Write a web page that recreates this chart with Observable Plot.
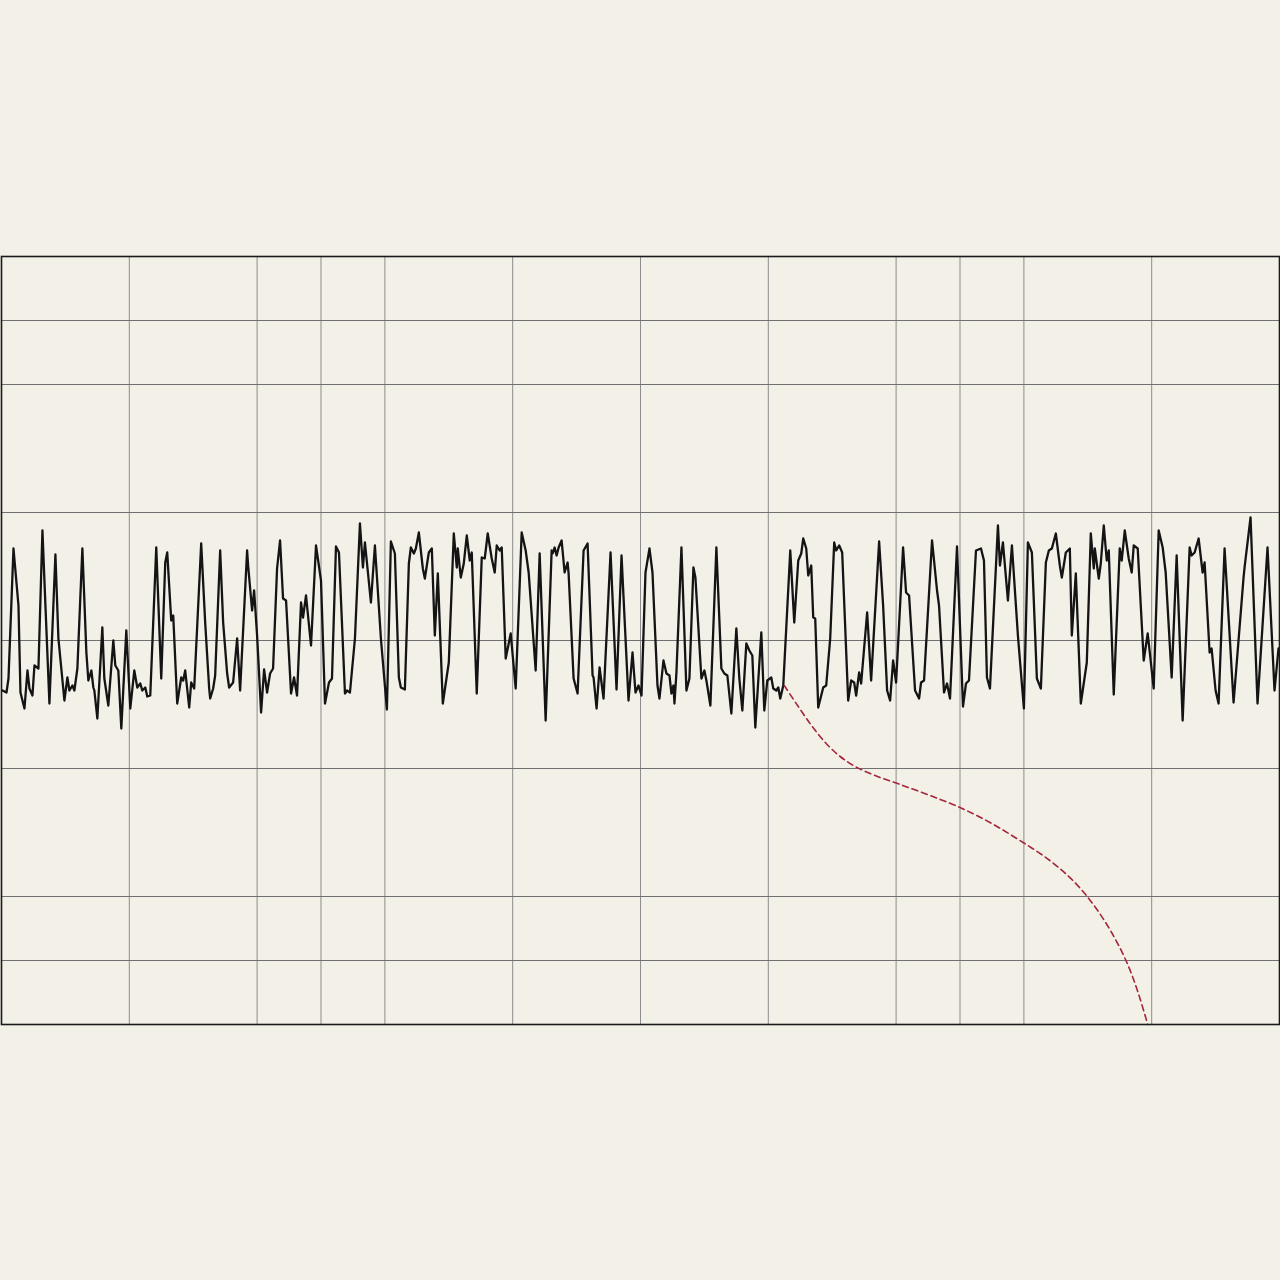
<!DOCTYPE html>
<html><head><meta charset="utf-8">
<script src="https://cdn.jsdelivr.net/npm/d3@7"></script>
<script src="https://cdn.jsdelivr.net/npm/@observablehq/plot@0.6"></script>
<style>html,body{margin:0;padding:0;background:#f3f0e8;} #chart svg{display:block}</style>
</head><body><div id="chart"></div>
<script>
// time (ms) gridlines and amplitude (µV) gridlines
const xGrid = [128, 256, 320, 384, 512, 640, 768, 896, 960, 1024, 1152];
const yGrid = [320, 256, 128, 0, -128, -256, -320];

// signal trace: [time, amplitude]
const signal = [
[1,-50],[5,-52],[7,-38],[12,92],[17,35],[19,-52],[23,-68],[26,-30],[28,-48],[31,-55],[33,-25],[37,-28],[41,110],[44,35],[48,-63],[54,86],[57,2],[63,-60],[66,-37],[68,-50],[71,-45],[73,-50],[76,-28],[81,92],[85,-12],[87,-40],[90,-30],[92,-47],[93,-50],[96,-78],[101,13],[103,-38],[107,-65],
[112,0],[114,-25],[117,-30],[120,-88],[125,10],[129,-68],[133,-30],[136,-47],[139,-43],[141,-50],[144,-47],[146,-56],[149,-55],[155,93],[160,-38],[164,78],[166,88],[170,20],[172,25],[176,-63],[180,-37],[182,-40],[184,-30],[188,-67],[190,-42],[193,-48],[200,97],[204,18],[208,-48],[209,-58],[212,-48],
[214,-35],[219,90],[222,18],[226,-33],[228,-47],[232,-42],[236,2],[239,-50],[246,90],[247,75],[251,30],[253,50],[256,5],[260,-72],[263,-29],[266,-52],[269,-33],[272,-28],[276,72],[279,100],[282,42],[285,40],[290,-53],[293,-37],[296,-55],[300,38],[302,23],[305,45],[310,-5],[315,95],[320,60],
[324,-63],[328,-42],[331,-38],[335,94],[338,88],[344,-53],[346,-50],[349,-52],[354,2],[359,117],[362,73],[364,98],[370,38],[374,95],[380,2],[386,-69],[390,99],[394,87],[398,-37],[400,-47],[404,-49],[408,77],[410,93],[413,87],[415,92],[418,108],[422,72],[424,62],[428,88],
[431,92],[434,5],[437,67],[442,-63],[448,-22],[453,107],[456,73],[457,92],[460,63],[463,77],[466,105],[469,80],[471,88],[476,-53],[481,83],[484,82],[487,107],[491,82],[494,68],[496,95],[499,90],[501,93],[505,-18],[510,7],[515,-48],[521,108],[525,90],[528,68],[535,-30],
[539,87],[545,-80],[551,90],[552,87],[554,93],[556,85],[558,93],[561,100],[564,68],[567,78],[568,67],[573,-38],[577,-53],[583,90],[587,97],[592,-35],[593,-37],[596,-68],[599,-27],[603,-58],[610,88],[616,-49],[621,85],[628,-60],[632,-12],[635,-52],[638,-45],[641,-55],
[645,68],[649,92],[652,68],[657,-45],[659,-58],[663,-20],[666,-33],[669,-35],[671,-53],[673,-45],[674,-63],[676,-32],[681,93],[686,-50],[689,-38],[693,73],[695,63],[701,-38],[704,-30],[706,-40],[710,-65],[716,93],[721,-28],[724,-33],[727,-35],[731,-73],[736,12],[739,-38],[742,-70],[746,-3],
[749,-10],[752,-15],[755,-87],[761,8],[764,-70],[767,-40],[771,-37],[773,-48],[776,-50],[778,-47],[780,-58],[783,-45],
[790,90],[794,18],[798,80],[801,87],[803,102],[806,92],[808,65],[811,75],[813,23],[815,22],[818,-67],[823,-47],[826,-45],[830,2],[834,98],[836,90],[839,95],[842,88],[848,-60],[851,-40],[854,-42],
[856,-55],[859,-32],[861,-43],[867,28],[871,-40],[879,99],[883,35],[887,-50],[890,-60],[893,-20],[896,-42],[903,93],[906,48],[909,45],[915,-50],[919,-58],[921,-42],[924,-40],[932,100],[937,50],[939,35],[944,-52],[947,-43],[950,-58],[957,94],
[963,-66],[966,-43],[969,-40],[976,90],[981,92],[984,80],[987,-37],[990,-48],[998,115],[1000,75],[1003,98],[1008,40],[1012,95],[1018,5],[1024,-68],[1028,98],[1032,88],[1037,-38],[1041,-48],[1046,78],[1049,90],[1052,92],[1056,107],[1060,75],[1062,63],[1066,88],[1070,92],
[1072,5],[1076,67],[1081,-63],[1087,-22],[1091,107],[1094,72],[1095,92],[1099,62],[1101,77],[1104,115],[1107,80],[1109,90],[1114,-54],[1120,92],[1122,80],[1125,110],[1129,82],[1132,68],[1134,95],[1138,92],[1144,-20],[1148,7],[1154,-48],[1159,110],[1163,93],[1166,68],[1172,-37],
[1177,85],[1183,-80],[1190,93],[1192,85],[1195,88],[1199,102],[1203,68],[1205,78],[1210,-12],[1212,-8],[1216,-50],[1219,-63],[1225,92],[1234,-62],[1244,63],[1245,73],[1251,123],[1258,-63],[1268,93],[1275,-50],[1279,-8]
];

// red dashed trend trace: [time, amplitude]
const redTrace = [
[784,-45],[798,-66],[812,-86],[826,-103],[840,-116],[855,-126],[875,-135],[900,-144],[930,-155],[960,-167],[990,-182],[1020,-200],[1050,-220],[1075,-242],[1095,-266],[1113,-294],[1128,-324],[1139,-354],[1148,-384]
];

const chart = Plot.plot({
  width: 1280, height: 1280,
  marginTop: 256, marginBottom: 256, marginLeft: 1, marginRight: 1,
  x: {domain: [0, 1280], axis: null},
  y: {domain: [-384, 384], axis: null},
  style: {background: "#f3f0e8"},
  marks: [
    Plot.ruleX(xGrid, {stroke: "#8c8c8c", strokeWidth: 1}),
    Plot.ruleY(yGrid, {stroke: "#707070", strokeWidth: 1}),
    Plot.line(signal, {x: d => d[0], y: d => d[1], stroke: "#141414", strokeWidth: 2.3, strokeLinejoin: "round"}),
    Plot.line(redTrace, {x: d => d[0], y: d => d[1], stroke: "#a3263a", strokeWidth: 1.6, strokeDasharray: "6,4", curve: "catmull-rom"}),
    Plot.frame({stroke: "#1a1a1a", strokeWidth: 1.6})
  ]
});
document.getElementById("chart").appendChild(chart);
</script>
</body></html>
